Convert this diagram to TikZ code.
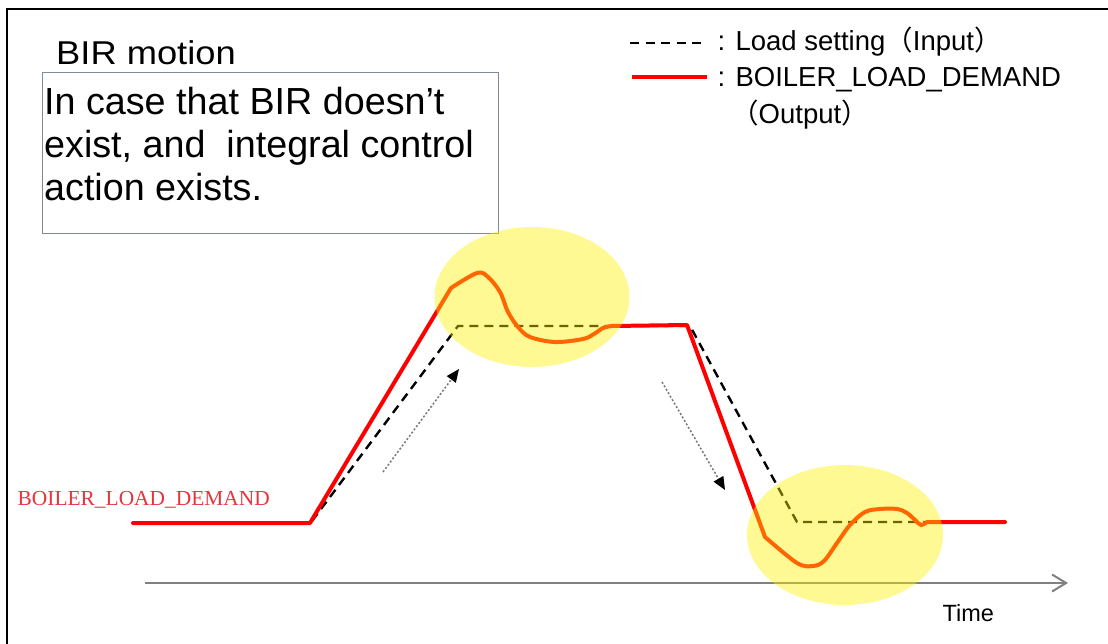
\documentclass[tikz,border=0pt]{standalone}
\usepackage{fontspec}
\usepackage{graphicx}
\setmainfont{Liberation Sans}
\newfontfamily\redserif{Liberation Serif}
\newfontfamily\cjk{Noto Sans CJK SC}
\usetikzlibrary{arrows.meta,shapes.geometric}
\definecolor{boxgray}{RGB}{128,140,148}
\definecolor{labelred}{RGB}{232,52,62}
\definecolor{axisgray}{RGB}{128,128,128}
\definecolor{dotgray}{RGB}{120,120,120}
\tikzset{
  frameline/.style={line width=2pt, black},
  outline/.style={red, line width=4pt, line join=round, line cap=round},
  inputline/.style={black, line width=2.4pt, dash pattern=on 9pt off 6pt},
  hilite/.style={fill=yellow, fill opacity=0.42, draw=none},
  axisline/.style={axisgray, line width=2pt, -{Straight Barb[length=14pt,width=17pt,line width=2pt]}},
  trendarrow/.style={dotgray, line width=1.5pt, dash pattern=on 2pt off 2pt, -{Triangle[length=13pt,width=11pt,color=black]}},
  lbl/.style={inner sep=0pt, anchor=base west},
}
\begin{document}
\begin{tikzpicture}[x=1pt,y=-1pt]
\useasboundingbox (0,0) rectangle (1108,644);
\fill[white] (0,0) rectangle (1108,644);
% frame
\coordinate (fbl) at (7,644);
\coordinate (ftl) at (7,9);
\coordinate (ftr) at (1108,9);
\draw[frameline] (fbl) -- (ftl) -- (ftr);

% title and description
\node[lbl] (title) at (56,65) {\fontsize{33}{40}\selectfont\scalebox{1.1}[1]{BIR motion}};
\node[draw=boxgray, line width=1.3pt, minimum width=456pt, minimum height=161pt, anchor=north west, inner sep=0pt] (box) at (42,72) {};
\node[lbl] (d1) at (44,115) {\fontsize{37.7}{45}\selectfont In case that BIR doesn’t};
\node[lbl] (d2) at (44,158) {\fontsize{37.7}{45}\selectfont exist, and\ \ integral control};
\node[lbl] (d3) at (44,201) {\fontsize{37.7}{45}\selectfont action exists.};

% legend
\coordinate (ldA) at (630,43);
\coordinate (ldB) at (704,43);
\draw[black, line width=2pt, dash pattern=on 9pt off 6.5pt] (ldA) -- (ldB);
\coordinate (lrA) at (632,77);
\coordinate (lrB) at (707,77);
\draw[red, line width=4pt] (lrA) -- (lrB);
\node[lbl] (leg1) at (717.5,51) {\fontsize{27.5}{33}\selectfont : Load setting{\cjk （}Input{\cjk ）}};
\node[lbl] (leg2) at (717.5,87) {\fontsize{27.5}{33}\selectfont : BOILER\_LOAD\_DEMAND};
\node[lbl] (leg3) at (731,124) {\fontsize{27.5}{33}\selectfont {\cjk （}Output{\cjk ）}};

% red label
\node[lbl, text=labelred] (ylabel) at (17.5,505) {\redserif\fontsize{21.4}{26}\selectfont BOILER\_LOAD\_DEMAND};

% time axis
\coordinate (ax0) at (145,583);
\coordinate (ax1) at (1068,583);
\draw[axisline] (ax0) -- (ax1);
\node[lbl] (time) at (942.5,621) {\fontsize{23.5}{28}\selectfont Time};

% input (dashed)
\coordinate (i0) at (312,521);
\coordinate (i1) at (458,326);
\coordinate (i2) at (690,326);
\coordinate (i3) at (797,522);
\coordinate (i4) at (925,522);
\draw[inputline] (i0) -- (i1) -- (i2) -- (i3) -- (i4);

% output (red)
\coordinate (o0) at (133,523);
\coordinate (o1) at (310,523);
\coordinate (o2) at (451,288);
\coordinate (o3) at (612,326);
\coordinate (o4) at (687,325);
\coordinate (o5) at (765,537);
\coordinate (o6) at (927,522);
\coordinate (o7) at (1005,522);
\draw[outline] (o0) -- (o1) -- (o2)
  -- plot[smooth, tension=0.55] coordinates {(451,288) (477,273) (488,277) (500,292) (508,312) (518,327) (530,337) (555,342) (583,339) (594,334) (603,328) (612,326)}
  -- (o4) -- (o5)
  -- plot[smooth, tension=0.55] coordinates {(765,537) (797,563) (813,566) (824,561) (837,543) (850,525) (865,512) (880,509) (897,509) (907,513) (915,520) (921,525) (927,522)}
  -- (o7);

% trend arrows
\coordinate (t1a) at (383,472);
\coordinate (t1b) at (459,369);
\draw[trendarrow] (t1a) -- (t1b);
\coordinate (t2a) at (662,382);
\coordinate (t2b) at (725,490);
\draw[trendarrow] (t2a) -- (t2b);

% highlight ellipses
\node[hilite, ellipse, minimum width=195pt, minimum height=140pt, inner sep=0pt] (e1) at (532,297) {};
\node[hilite, ellipse, minimum width=196pt, minimum height=140pt, inner sep=0pt] (e2) at (845,535) {};
\end{tikzpicture}
\end{document}
